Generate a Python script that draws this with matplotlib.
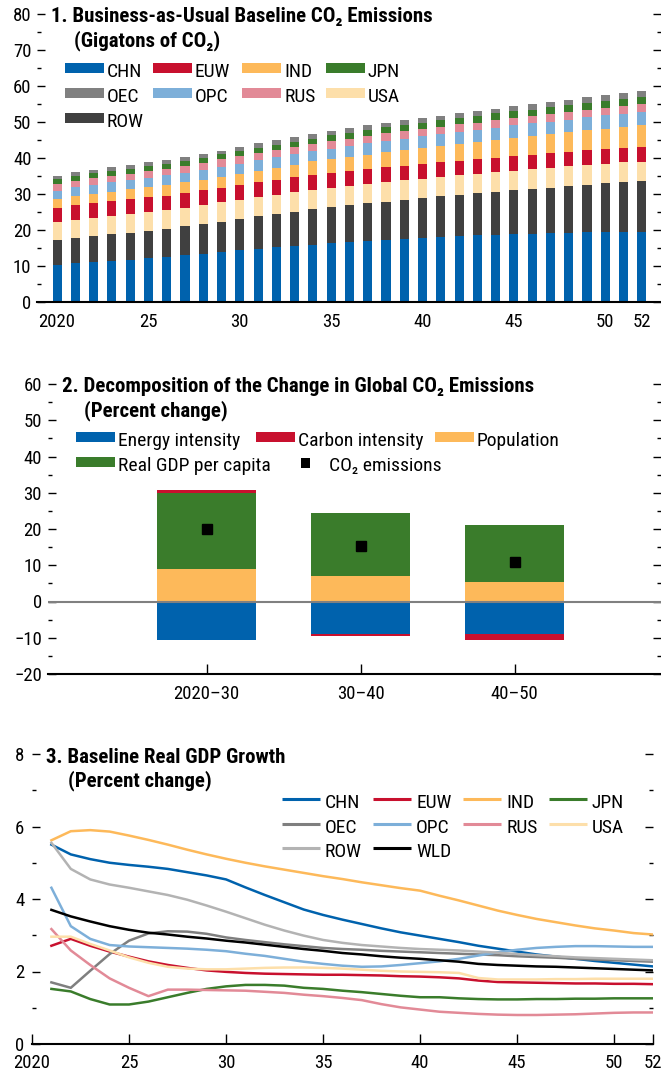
import numpy as np
import matplotlib
matplotlib.use("Agg")
import matplotlib.pyplot as plt
import matplotlib.font_manager as fm
from matplotlib.patches import Rectangle
from matplotlib.lines import Line2D

# pick a narrow sans font if one is installed
fonts = fm.fontManager.ttflist
names = {f.name for f in fonts}
family, stretch = None, "normal"
for n in ["Liberation Sans Narrow", "Roboto Condensed", "Open Sans Condensed", "Noto Sans Condensed",
          "DejaVu Sans Condensed", "Arial Narrow"]:
    if n in names:
        family = n
        break
if family is None:
    cond = [f for f in fonts if f.stretch in ("condensed", "semi-condensed", "extra-condensed")
            and "Mono" not in f.name and "Serif" not in f.name]
    if cond:
        family, stretch = cond[0].name, cond[0].stretch
if family is None:
    family = "Liberation Sans"
plt.rcParams['font.family'] = [family, 'DejaVu Sans']
plt.rcParams['font.stretch'] = stretch
plt.rcParams['font.size'] = 13.5

# ---- panel 1 data: emissions by region, gigatons
years = list(range(2020, 2053))
chn = [10.3, 10.7, 11.2, 11.4, 11.8, 12.3, 12.5, 13.1, 13.4, 13.9, 14.4, 14.7, 15.3, 15.6, 15.9, 16.3, 16.8,
       16.9, 17.3, 17.6, 17.9, 18.1, 18.4, 18.5, 18.6, 18.8, 19.0, 19.2, 19.2, 19.4, 19.4, 19.5, 19.5]
row = [6.9, 7.1, 7.2, 7.6, 7.5, 7.5, 7.9, 8.0, 8.3, 8.3, 8.7, 9.2, 9.2, 9.5, 9.9, 10.1, 10.2,
       10.6, 10.6, 10.8, 11.1, 11.4, 11.3, 11.8, 12.0, 12.3, 12.4, 12.6, 13.0, 13.2, 13.7, 13.8, 14.1]
usa = [5.0, 5.0, 5.0, 4.9, 5.1, 5.2, 5.2, 5.0, 5.2, 5.6, 5.2, 5.3, 5.2, 5.5, 5.3, 5.3, 5.2,
       5.4, 5.4, 5.5, 5.3, 5.3, 5.6, 5.3, 5.5, 5.4, 5.5, 5.5, 5.6, 5.5, 5.2, 5.6, 5.3]
euw = [4.0, 4.1, 4.2, 4.2, 4.3, 4.3, 3.9, 4.2, 4.2, 3.9, 4.2, 4.1, 4.2, 4.1, 4.2, 4.1, 4.3,
       4.0, 4.3, 4.0, 4.1, 4.2, 3.9, 4.1, 3.9, 4.1, 3.9, 4.1, 4.0, 4.1, 4.2, 3.9, 4.2]
ind = [2.3, 2.6, 2.5, 2.5, 2.6, 2.6, 3.0, 3.0, 2.8, 3.0, 3.1, 3.2, 3.4, 3.4, 3.8, 3.9, 3.8,
       4.0, 4.0, 4.3, 4.5, 4.4, 4.8, 4.8, 5.0, 5.0, 5.4, 5.4, 5.5, 5.7, 5.6, 5.8, 6.1]
opc = [2.4, 2.5, 2.4, 2.8, 2.7, 2.6, 2.7, 2.6, 2.8, 2.8, 2.8, 2.9, 2.9, 3.0, 2.8, 2.9, 3.1,
       3.2, 3.1, 3.2, 3.1, 3.3, 3.3, 3.3, 3.4, 3.5, 3.4, 3.3, 3.3, 3.4, 3.8, 3.7, 3.7]
rus = [2.0, 1.6, 1.9, 1.7, 1.6, 1.9, 1.8, 1.9, 1.8, 2.2, 2.2, 1.9, 2.0, 2.0, 2.0, 2.1, 2.0,
       2.1, 2.2, 2.2, 2.1, 2.0, 2.1, 1.9, 2.2, 2.0, 2.1, 2.1, 2.2, 2.1, 2.0, 2.1, 2.1]
jpn = [1.2, 1.4, 1.3, 1.4, 1.4, 1.4, 1.3, 1.4, 1.5, 1.4, 1.4, 1.5, 1.5, 1.4, 1.5, 1.7, 1.6,
       1.6, 1.7, 1.6, 1.7, 1.9, 1.7, 2.0, 1.8, 2.0, 1.7, 1.9, 1.8, 1.9, 1.9, 2.0, 1.9]
oec = [0.9, 1.1, 1.0, 1.0, 1.1, 1.1, 1.1, 1.1, 1.1, 0.8, 1.1, 1.3, 1.2, 1.3, 1.3, 1.1, 1.3,
       1.4, 1.1, 1.4, 1.3, 1.1, 1.4, 1.4, 1.2, 1.3, 1.6, 1.5, 1.5, 1.6, 1.6, 1.6, 1.6]
p1_ticks = [2020, 2025, 2030, 2035, 2040, 2045, 2050, 2052]
p1_ticklabels = ["2020", "25", "30", "35", "40", "45", "50", "52"]

# ---- panel 2 data: decomposition, percent change
periods = ["2020\u201330", "30\u201340", "40\u201350"]
energy_int = [-10.6, -9.1, -8.85]
carbon_int = [0.7, -0.3, -1.65]
population = [9.0, 6.9, 5.25]
gdp_pc = [21.0, 17.4, 15.75]
co2_total = [19.9, 15.2, 10.8]

# ---- panel 3 data: real GDP growth, 2021-52
gyears = list(range(2021, 2053))
g_chn = [5.50, 5.23, 5.10, 5.00, 4.94, 4.89, 4.83, 4.74, 4.65, 4.54, 4.32, 4.11, 3.91, 3.71, 3.56, 3.43,
         3.31, 3.19, 3.08, 2.99, 2.90, 2.81, 2.71, 2.63, 2.55, 2.47, 2.41, 2.35, 2.29, 2.24, 2.19, 2.14]
g_euw = [2.71, 2.90, 2.71, 2.55, 2.41, 2.28, 2.18, 2.10, 2.03, 1.99, 1.96, 1.94, 1.93, 1.92, 1.91, 1.91,
         1.90, 1.89, 1.87, 1.86, 1.84, 1.81, 1.75, 1.71, 1.70, 1.69, 1.68, 1.67, 1.67, 1.66, 1.66, 1.65]
g_ind = [5.62, 5.87, 5.90, 5.86, 5.75, 5.63, 5.50, 5.36, 5.23, 5.11, 5.00, 4.90, 4.81, 4.72, 4.63, 4.55,
         4.46, 4.38, 4.30, 4.23, 4.09, 3.96, 3.82, 3.68, 3.56, 3.45, 3.36, 3.27, 3.19, 3.13, 3.06, 3.02]
g_jpn = [1.52, 1.45, 1.24, 1.09, 1.09, 1.17, 1.29, 1.41, 1.52, 1.59, 1.63, 1.63, 1.61, 1.55, 1.52, 1.47,
         1.43, 1.38, 1.33, 1.29, 1.29, 1.26, 1.24, 1.23, 1.23, 1.24, 1.24, 1.25, 1.25, 1.26, 1.26, 1.26]
g_oec = [1.70, 1.55, 2.02, 2.48, 2.85, 3.05, 3.11, 3.10, 3.04, 2.94, 2.87, 2.81, 2.75, 2.70, 2.65, 2.62,
         2.60, 2.57, 2.55, 2.53, 2.51, 2.49, 2.47, 2.45, 2.42, 2.40, 2.38, 2.35, 2.33, 2.31, 2.29, 2.27]
g_opc = [4.31, 3.25, 2.90, 2.73, 2.69, 2.67, 2.65, 2.63, 2.60, 2.56, 2.49, 2.43, 2.35, 2.27, 2.21, 2.16,
         2.13, 2.14, 2.18, 2.23, 2.28, 2.35, 2.44, 2.53, 2.60, 2.65, 2.68, 2.70, 2.70, 2.69, 2.68, 2.68]
g_rus = [3.17, 2.58, 2.18, 1.81, 1.55, 1.32, 1.50, 1.50, 1.49, 1.48, 1.47, 1.44, 1.41, 1.36, 1.32, 1.27,
         1.21, 1.10, 1.01, 0.95, 0.89, 0.86, 0.83, 0.81, 0.80, 0.80, 0.81, 0.82, 0.84, 0.86, 0.87, 0.87]
g_usa = [2.96, 2.96, 2.76, 2.58, 2.39, 2.24, 2.13, 2.08, 2.06, 2.06, 2.08, 2.10, 2.11, 2.11, 2.10, 2.08,
         2.05, 2.02, 2.00, 1.99, 1.98, 1.96, 1.82, 1.78, 1.78, 1.78, 1.79, 1.79, 1.80, 1.80, 1.80, 1.80]
g_row = [5.55, 4.83, 4.54, 4.40, 4.31, 4.21, 4.11, 3.98, 3.82, 3.65, 3.47, 3.29, 3.13, 2.99, 2.87, 2.79,
         2.73, 2.69, 2.65, 2.62, 2.60, 2.58, 2.55, 2.52, 2.48, 2.45, 2.42, 2.39, 2.37, 2.35, 2.33, 2.31]
g_wld = [3.70, 3.52, 3.38, 3.25, 3.15, 3.07, 3.02, 2.96, 2.91, 2.85, 2.80, 2.74, 2.68, 2.62, 2.57, 2.51,
         2.47, 2.42, 2.38, 2.35, 2.31, 2.27, 2.21, 2.18, 2.16, 2.14, 2.13, 2.11, 2.09, 2.07, 2.05, 2.03]
p3_ticks = [2020, 2025, 2030, 2035, 2040, 2045, 2050, 2052]

col = {"CHN": "#0062ad", "EUW": "#c8102e", "IND": "#fdb95a", "JPN": "#3a7c2b", "OEC": "#808080",
       "OPC": "#7dafd9", "RUS": "#e28a97", "USA": "#fddfaa", "ROW": "#404040"}

W, H = 661, 1076
fig = plt.figure(figsize=(W / 100, H / 100), dpi=100)


def fx(x):
    return x / W


def fy(y):
    return 1 - y / H


def style_axis(ax, major, minor, pad):
    for s in ["top", "left", "right"]:
        ax.spines[s].set_visible(False)
    ax.spines["bottom"].set_linewidth(1.5)
    ax.yaxis.set_major_locator(plt.MultipleLocator(major))
    ax.yaxis.set_minor_locator(plt.MultipleLocator(minor))
    ax.tick_params(axis="y", which="both", direction="in", left=True, right=True, width=1, pad=pad,
                   labelsize=13.5)
    ax.tick_params(axis="y", which="major", length=6)
    ax.tick_params(axis="y", which="minor", length=3)


def title(x1, b1, x2, b2, line1, line2):
    fig.text(fx(x1), fy(b1), line1, fontsize=15, fontweight="bold", va="baseline")
    fig.text(fx(x2), fy(b2), line2, fontsize=15, fontweight="bold", va="baseline")


def box_key(x, top, color, label, base):
    fig.add_artist(Rectangle((fx(x), fy(top + 9.5)), 39 / W, 9.5 / H, transform=fig.transFigure,
                             facecolor=color, edgecolor="none"))
    fig.text(fx(x + 42), fy(base), label, fontsize=14, va="baseline")


def line_key(x, yc, color, label, base):
    fig.add_artist(Line2D([fx(x), fx(x + 38)], [fy(yc), fy(yc)], transform=fig.transFigure,
                          color=color, lw=2.2, solid_capstyle="butt"))
    fig.text(fx(x + 43), fy(base), label, fontsize=14, va="baseline")


# ================= panel 1
ax1 = fig.add_axes([fx(37), fy(302), fx(624), 288 / H])
order = [("CHN", chn), ("ROW", row), ("USA", usa), ("EUW", euw), ("IND", ind),
         ("OPC", opc), ("RUS", rus), ("JPN", jpn), ("OEC", oec)]
bottom = np.zeros(len(years))
for name, vals in order:
    ax1.bar(years, vals, 0.5, bottom=bottom, color=col[name], linewidth=0)
    bottom += np.array(vals)
ax1.set_ylim(0, 80)
ax1.set_xlim(2018.9, 2053.05)
style_axis(ax1, 10, 5, 4)
ax1.set_xticks(p1_ticks)
ax1.set_xticklabels(p1_ticklabels, fontsize=13.5)
ax1.tick_params(axis="x", length=0, pad=8)
title(51, 21.7, 74, 46, "1. Business-as-Usual Baseline CO\u2082 Emissions", "(Gigatons of CO\u2082)")
p1_keys = [("CHN", 65, 0), ("EUW", 153, 0), ("IND", 242, 0), ("JPN", 326, 0),
           ("OEC", 65, 1), ("OPC", 153, 1), ("RUS", 242, 1), ("USA", 326, 1), ("ROW", 65, 2)]
for name, x, r in p1_keys:
    box_key(x, 63.3 + 25 * r, col[name], name, 77.3 + 25 * r)

# ================= panel 2
ax2 = fig.add_axes([fx(48), fy(674), fx(613), 290 / H])
xpos = np.arange(1, len(periods) + 1)
w = 0.64
neg_c = np.minimum(carbon_int, 0)
pos_c = np.maximum(carbon_int, 0)
ax2.bar(xpos, energy_int, w, color=col["CHN"], linewidth=0)
ax2.bar(xpos, neg_c, w, bottom=energy_int, color=col["EUW"], linewidth=0)
ax2.bar(xpos, population, w, color=col["IND"], linewidth=0)
ax2.bar(xpos, gdp_pc, w, bottom=population, color=col["JPN"], linewidth=0)
ax2.bar(xpos, pos_c, w, bottom=np.array(population) + np.array(gdp_pc), color=col["EUW"], linewidth=0)
ax2.plot(xpos, co2_total, "s", color="black", ms=7, zorder=5)
ax2.axhline(0, color="#808080", lw=1.5, zorder=4)
ax2.set_ylim(-20, 60)
ax2.set_xlim(-0.03, 3.95)
style_axis(ax2, 10, 5, 4.3)
ax2.set_xticks(xpos)
ax2.set_xticklabels(periods, fontsize=13.5)
ax2.tick_params(axis="x", direction="in", length=7, width=1, pad=8)
title(62.4, 392, 84.3, 416, "2. Decomposition of the Change in Global CO\u2082 Emissions", "(Percent change)")
box_key(76, 432, col["CHN"], "Energy intensity", 446)
box_key(256, 432, col["EUW"], "Carbon intensity", 446)
box_key(435, 432, col["IND"], "Population", 446)
box_key(76, 457, col["JPN"], "Real GDP per capita", 471)
fig.add_artist(Rectangle((fx(300.5), fy(467.5)), 9.5 / W, 9.5 / H, transform=fig.transFigure,
                         facecolor="black", edgecolor="none"))
fig.text(fx(329), fy(471), "CO\u2082 emissions", fontsize=14, va="baseline")

# ================= panel 3
ax3 = fig.add_axes([fx(32), fy(1044), fx(621), 290 / H])
series = [("CHN", g_chn, col["CHN"]), ("EUW", g_euw, col["EUW"]), ("IND", g_ind, col["IND"]),
          ("JPN", g_jpn, col["JPN"]), ("OEC", g_oec, "#7f7f7f"), ("OPC", g_opc, col["OPC"]),
          ("RUS", g_rus, col["RUS"]), ("USA", g_usa, col["USA"]), ("ROW", g_row, "#b3b3b3"),
          ("WLD", g_wld, "black")]
for name, vals, c in series:
    ax3.plot(gyears, vals, color=c, lw=1.8)
ax3.set_ylim(0, 8)
ax3.set_xlim(2020, 2052)
style_axis(ax3, 2, 1, 5.5)
ax3.set_xticks(p3_ticks)
ax3.set_xticklabels(p1_ticklabels, fontsize=13.5)
ax3.tick_params(axis="x", direction="in", length=7, width=1, pad=7.5)
title(45.5, 762.7, 67.5, 786.7, "3. Baseline Real GDP Growth", "(Percent change)")
p3_cols = {"CHN": (282, 0), "EUW": (373, 0), "IND": (463, 0), "JPN": (549, 0),
           "OEC": (282, 1), "OPC": (373, 1), "RUS": (463, 1), "USA": (549, 1),
           "ROW": (282, 2), "WLD": (373, 2)}
for name, vals, c in series:
    x, r = p3_cols[name]
    line_key(x, 799.3 + 24.5 * r, c, name, 808.3 + 24.5 * r)

fig.savefig("out.png", dpi=100)
